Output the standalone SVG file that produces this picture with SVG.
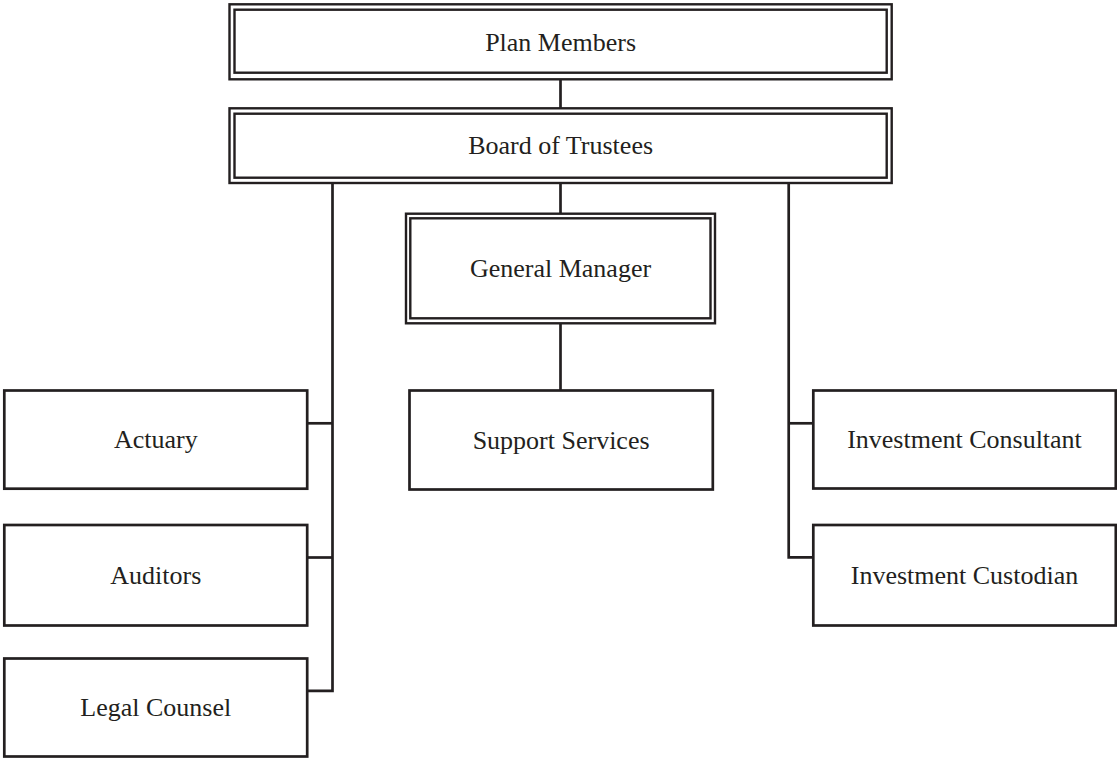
<svg xmlns="http://www.w3.org/2000/svg" width="1117" height="760" viewBox="0 0 1117 760">
<style>
.box{fill:#fff;stroke:#231f20;stroke-width:2.7}
.dbl{fill:none;stroke:#231f20;stroke-width:2.4}
.lbl{font-family:"Liberation Serif","Times New Roman",serif;font-size:26px;fill:#231f20;text-anchor:middle}
.conn{fill:none;stroke:#231f20;stroke-width:2.7}
</style>
<rect width="1117" height="760" fill="#fff"/>
<g id="connectors">
<line class="conn" x1="560.5" y1="79.3" x2="560.5" y2="108.3"/>
<line class="conn" x1="560.5" y1="183" x2="560.5" y2="213.7"/>
<line class="conn" x1="560.5" y1="323.3" x2="560.5" y2="390.5"/>
<polyline class="conn" points="332.5,183 332.5,690.8 307.2,690.8"/>
<line class="conn" x1="332.5" y1="423.3" x2="307.2" y2="423.3"/>
<line class="conn" x1="332.5" y1="557.5" x2="307.2" y2="557.5"/>
<polyline class="conn" points="788.7,183 788.7,557.3 813.3,557.3"/>
<line class="conn" x1="788.7" y1="423.3" x2="813.3" y2="423.3"/>
</g>
<g id="plan-members">
<rect class="dbl" x="229.5" y="4.3" width="662.2" height="75"/>
<rect class="dbl" x="234.5" y="9.7" width="652.2" height="63"/>
<text class="lbl" x="560.6" y="50.5">Plan Members</text>
</g>
<g id="board-of-trustees">
<rect class="dbl" x="229.5" y="108.3" width="662.2" height="74.7"/>
<rect class="dbl" x="234.5" y="113.7" width="652.2" height="64"/>
<text class="lbl" x="560.6" y="154.3">Board of Trustees</text>
</g>
<g id="general-manager">
<rect class="dbl" x="406" y="213.7" width="309" height="109.6"/>
<rect class="dbl" x="410.3" y="218.3" width="300.2" height="100"/>
<text class="lbl" x="560.5" y="277">General Manager</text>
</g>
<g id="support-services">
<rect class="box" x="409.5" y="390.5" width="303.3" height="99"/>
<text class="lbl" x="561.1" y="448.5">Support Services</text>
</g>
<g id="actuary">
<rect class="box" x="4.3" y="390.5" width="302.9" height="98.2"/>
<text class="lbl" x="155.8" y="448">Actuary</text>
</g>
<g id="auditors">
<rect class="box" x="4.3" y="525" width="302.9" height="100.5"/>
<text class="lbl" x="155.8" y="583.5">Auditors</text>
</g>
<g id="legal-counsel">
<rect class="box" x="4.3" y="658.5" width="302.9" height="98"/>
<text class="lbl" x="155.8" y="716">Legal Counsel</text>
</g>
<g id="investment-consultant">
<rect class="box" x="813.3" y="390.5" width="302.5" height="98"/>
<text class="lbl" x="964.5" y="448">Investment Consultant</text>
</g>
<g id="investment-custodian">
<rect class="box" x="813.3" y="525" width="302.5" height="100.5"/>
<text class="lbl" x="964.5" y="583.5">Investment Custodian</text>
</g>
</svg>
